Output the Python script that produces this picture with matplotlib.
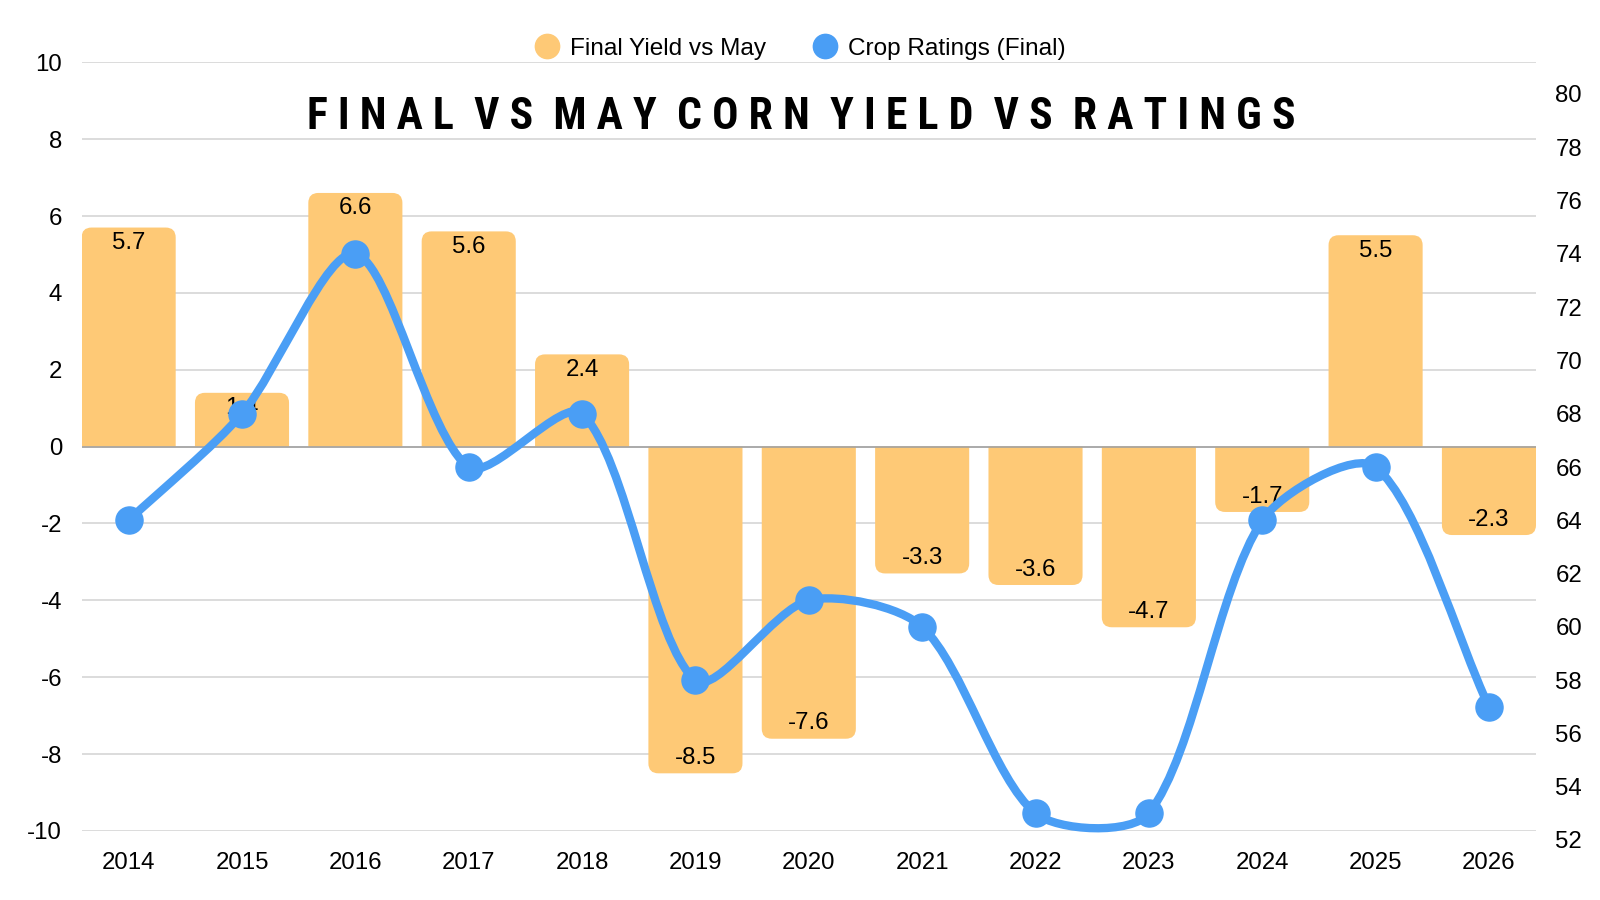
import numpy as np
import matplotlib
matplotlib.use("Agg")
import matplotlib.pyplot as plt
from matplotlib.patches import PathPatch
from matplotlib.path import Path
from matplotlib.lines import Line2D

plt.rcParams["font.family"] = ["Liberation Sans", "DejaVu Sans"]
plt.rcParams["axes.unicode_minus"] = False

years = ["2014", "2015", "2016", "2017", "2018", "2019", "2020",
         "2021", "2022", "2023", "2024", "2025", "2026"]
yield_vs_may = [5.7, 1.4, 6.6, 5.6, 2.4, -8.5, -7.6, -3.3, -3.6, -4.7, -1.7, 5.5, -2.3]
crop_ratings = [64, 68, 74, 66, 68, 58, 61, 60, 53, 53, 64, 66, 57]

BAR_COLOR = "#FEC976"
LINE_COLOR = "#4A9EF5"
GRID_COLOR = "#D9D9D9"

title = "FINAL VS MAY CORN YIELD VS RATINGS"

fig = plt.figure(figsize=(16, 9), dpi=100)
left, right = 0.051, 0.96
ax = fig.add_axes([left, 0.0767, right - left, 0.9308 - 0.0767])
# right axis runs on its own (slightly offset) vertical extent, as in the original
ax2 = fig.add_axes([left, 1 - 840 / 900, right - left, (840 - 94) / 900], sharex=ax)
ax2.patch.set_visible(False)

x = np.arange(len(years))
width = 0.83
ax.set_xlim(-width / 2, len(years) - 1 + width / 2)
ax.set_ylim(-10, 10)
ax2.set_ylim(52, 80)

# bars with rounded corners on the far end only
rx, ry = 0.088, 0.26
for xi, v in zip(x, yield_vs_may):
    x0, x1 = xi - width / 2, xi + width / 2
    s = 1 if v > 0 else -1
    verts = [(x0, 0), (x0, v - s * ry), (x0, v), (x0 + rx, v), (x1 - rx, v),
             (x1, v), (x1, v - s * ry), (x1, 0), (x0, 0)]
    codes = [Path.MOVETO, Path.LINETO, Path.CURVE3, Path.CURVE3, Path.LINETO,
             Path.CURVE3, Path.CURVE3, Path.LINETO, Path.CLOSEPOLY]
    ax.add_patch(PathPatch(Path(verts, codes), fc=BAR_COLOR, ec="none", zorder=2))

for xi, v in zip(x, yield_vs_may):
    off = -11 if v > 0 else 11
    ax.annotate(f"{v:.1f}", (xi, v), xytext=(0, off), textcoords="offset points",
                ha="center", va="center", fontsize=17.3, color="black", zorder=3)

ax.axhline(0, color="#9E9E9E", lw=1.1, zorder=2.5)

ax.set_yticks(np.arange(-10, 11, 2))
ax.set_xticks(x)
ax.set_xticklabels(years)
ax.set_axisbelow(True)
ax.yaxis.grid(True, color=GRID_COLOR, lw=1.3)

ax2.set_yticks(np.arange(52, 81, 2))
ax2.yaxis.tick_right()
ax2.xaxis.set_visible(False)
for a in (ax, ax2):
    for sp in a.spines.values():
        sp.set_visible(False)
    a.tick_params(length=0, labelsize=17.3, colors="black")
ax.tick_params(axis="y", pad=14)
ax.tick_params(axis="x", pad=15)
ax2.tick_params(axis="y", pad=14)

# smooth line through the rating points (chart.js style tension)
tension = 0.28
pts = ax2.transData.transform(np.column_stack([x, crop_ratings]))
n = len(pts)
cps = []
for i in range(n):
    prev = pts[i - 1] if i > 0 else pts[i]
    nxt = pts[i + 1] if i < n - 1 else pts[i]
    d01 = np.hypot(*(pts[i] - prev))
    d12 = np.hypot(*(nxt - pts[i]))
    tot = d01 + d12
    fa = tension * d01 / tot if tot else 0
    fb = tension * d12 / tot if tot else 0
    cps.append((pts[i] - fa * (nxt - prev), pts[i] + fb * (nxt - prev)))
verts = [pts[0]]
codes = [Path.MOVETO]
for i in range(n - 1):
    verts += [cps[i][1], cps[i + 1][0], pts[i + 1]]
    codes += [Path.CURVE4] * 3
verts = ax2.transData.inverted().transform(np.array(verts))
ax2.add_patch(PathPatch(Path(verts, codes), fill=False, ec=LINE_COLOR, lw=6,
                        capstyle="round", joinstyle="round", zorder=4, clip_on=False))
ax2.plot(x, crop_ratings, "o", ms=19.5, color=LINE_COLOR, zorder=5, clip_on=False)

handles = [Line2D([], [], marker="o", ls="", ms=17.5, color=BAR_COLOR),
           Line2D([], [], marker="o", ls="", ms=17.5, color=LINE_COLOR)]
fig.legend(handles, ["Final Yield vs May", "Crop Ratings (Final)"], loc="center",
           bbox_to_anchor=(0.5, 1 - 49 / 900), ncol=2, frameon=False, fontsize=17.6,
           handletextpad=0.45, columnspacing=1.9, handlelength=1.0)

spaced = "  ".join(" ".join(word) for word in title.split())
fig.text(0.501, 1 - 117 / 900, spaced, ha="center", va="center", fontsize=31.5,
         fontweight="bold",
         family=["Roboto Condensed", "Liberation Sans Narrow", "DejaVu Sans"])

fig.savefig("out.png", dpi=100)
